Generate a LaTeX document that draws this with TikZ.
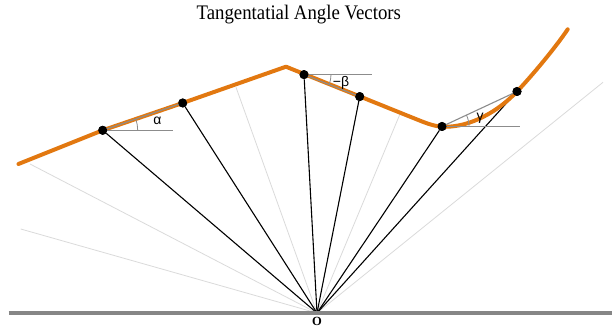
\documentclass[tikz,border=0pt]{standalone}
\usepackage{graphicx}
\usepackage{fontspec}
\setmainfont{Liberation Serif}
\newfontfamily\lsans{Liberation Sans}
\definecolor{curveorange}{RGB}{226,120,16}
\definecolor{faintgray}{RGB}{218,218,218}
\definecolor{refgray}{RGB}{140,140,140}
\definecolor{groundgray}{RGB}{134,134,134}
\begin{document}
\begin{tikzpicture}[x=1pt,y=1pt,
  dot/.style={circle,fill=black,inner sep=0pt,minimum size=9pt},
  ray/.style={draw=black,line width=1.1pt},
  faint/.style={draw=faintgray,line width=0.8pt},
  curve/.style={draw=curveorange,line width=4pt,line cap=round,line join=round},
  ref/.style={draw=refgray,line width=1.3pt},
  chord/.style={draw=refgray,line width=1.1pt},
  angarc/.style={draw=refgray,line width=0.8pt},
  ground/.style={draw=groundgray,line width=4.5pt},
  lbl/.style={font=\lsans\fontsize{14}{14}\selectfont,inner sep=0pt}]
\useasboundingbox (0,0) rectangle (612,331);
% origin and ground
\coordinate (O) at (317,18);
\coordinate (gl) at (8.5,18);
\coordinate (gr) at (612,18);
% faint ray ends
\coordinate (f1) at (30,167);
\coordinate (f2) at (20.7,102);
\coordinate (f3) at (236,243.7);
\coordinate (f4) at (400,217);
\coordinate (f5) at (603,248.7);
\foreach \f in {f1,f2,f3,f4,f5} \draw[faint] (O) -- (\f);
% points
\node[dot] (p1) at (102.7,200.7) {};
\node[dot] (p2) at (182.7,228) {};
\node[dot] (p3) at (304,256.4) {};
\node[dot] (p4) at (359.7,234.4) {};
\node[dot] (p5) at (442,204.5) {};
\node[dot] (p6) at (517,239.5) {};
% black rays
\foreach \p in {p1,p2,p3,p4,p5,p6} \draw[ray] (O) -- (\p);
% ground
\draw[ground] (gl) -- (gr);
% orange curve
\draw[curve] (18.5,167) -- (102.7,200.7) -- (182.7,228) -- (286,264.3) -- (415,212.3)
  .. controls (427,207.5) and (435,204.2) .. (445,204.2)
  .. controls (470,204.2) and (497,218.5) .. (517,239.5)
  .. controls (532,255.3) and (555.7,283.7) .. (567.7,301.7);
% reference lines and arcs
\coordinate (ha) at (173.3,200.7);
\coordinate (hb) at (371.7,256.4);
\coordinate (hc) at (519.5,204.5);
\draw[ref] (p1.center) -- (ha);
\draw[ref] (p3.center) -- (hb);
\draw[ref] (p5.center) -- (hc);
\draw[chord] (p1.center) -- (p2.center);
\draw[chord] (p3.center) -- (p4.center);
\draw[chord] (p5.center) -- (p6.center);
\draw[angarc] (p1.center) ++(35,0) arc[start angle=0,end angle=18.8,radius=35];
\draw[angarc] (p3.center) ++(27,0) arc[start angle=0,end angle=-21.6,radius=27];
\draw[angarc] (p5.center) ++(27,0) arc[start angle=0,end angle=25,radius=27];
% redraw dots on top
\foreach \p in {p1,p2,p3,p4,p5,p6} \fill (\p) circle (4.5);
% labels
\node[lbl] (la) at (157.3,210.3) {α};
\node[lbl] (lb) at (341,248.3) {−β};
\node[lbl] (lc) at (480,212.7) {γ};
\node[anchor=base,inner sep=0pt,font=\fontsize{18.8}{18.8}\selectfont] (title) at (298.8,311) {\scalebox{1}[1.1]{Tangentatial Angle Vectors}};
\node[inner sep=0pt,font=\bfseries\fontsize{12.5}{12.5}\selectfont] (olabel) at (317,9.3) {O};
\end{tikzpicture}
\end{document}
